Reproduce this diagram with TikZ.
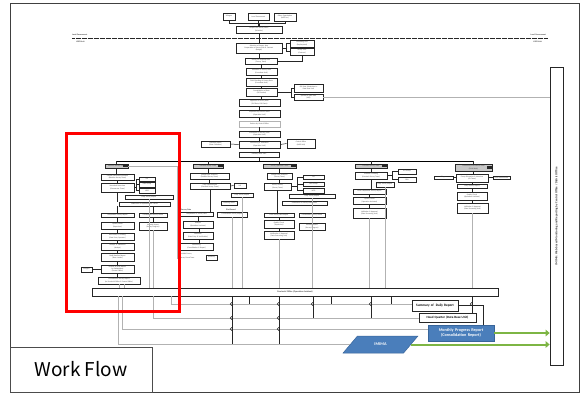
\documentclass[tikz,border=0pt]{standalone}
\usepackage{fontspec}
\setmainfont{Carlito}
\newfontfamily\wfjp{Noto Sans CJK JP}
\usetikzlibrary{arrows.meta,shapes.geometric}
\definecolor{wfblue}{HTML}{4A7EBB}
\definecolor{wfbluedark}{HTML}{38659A}
\definecolor{wfgreen}{HTML}{7DB544}
\newcommand\wftiny{\fontsize{1.8}{2.1}\selectfont}
% box given by its corners: [style]{name}{x1}{y1}{x2}{y2}{text}
\newcommand\wfbox[7][]{%
  \pgfmathsetmacro\wfcx{(#3+#5)/2}%
  \pgfmathsetmacro\wfcy{(#4+#6)/2}%
  \pgfmathsetmacro\wfw{#5-#3}%
  \pgfmathsetmacro\wfh{#6-#4}%
  \pgfmathsetmacro\wftw{max(#5-#3-1.4,1)}%
  \node[bx,#1,minimum width=\wfw pt,minimum height=\wfh pt,text width=\wftw pt] (#2) at (\wfcx,\wfcy) {#7};}
% small line hop drawn where a vertical line crosses a horizontal one
\newcommand\wfhop[2]{\draw[hopline] ([yshift=1.8pt]#1,#2) arc[start angle=90,end angle=270,radius=1.8pt];}
\begin{document}
\begin{tikzpicture}[x=1pt,y=-1pt,
  bx/.style={draw=black!85,line width=0.7pt,fill=white,inner sep=0.3pt,align=center,font=\wftiny,text=black!75},
  hd/.style={bx,fill=black!22},
  gbx/.style={bx,draw=black!30},
  wire/.style={draw=black!85,line width=0.5pt},
  feed/.style={draw=black!30,line width=0.5pt},
  hopline/.style={draw=black!85,line width=0.5pt},
  lbl/.style={font=\fontsize{2}{2.4}\selectfont\bfseries,text=black!75,inner sep=0},
  greenarrow/.style={draw=wfgreen,line width=2pt,-{Triangle[length=4pt,width=6.5pt]}}]
\useasboundingbox (0,0) rectangle (580,394);
\fill[white] (0,0) rectangle (580,394);
\draw[black!75,line width=0.8pt] (10,3.5) rectangle (579.4,392);

% ---------- level boundary ----------
\draw[black!85,line width=0.7pt,dash pattern=on 0.5pt off 0.7pt] (72,38) -- (548,38);
\node[lbl,anchor=west] (lgL) at (72,35) {Local Government};
\node[lbl,anchor=west] (luL) at (76,42) {LGED Unit};
\node[lbl,anchor=east] (lgR) at (546,35) {Local Government};
\node[lbl,anchor=east] (luR) at (542,42) {LGED Unit};

% ---------- central spine ----------
\wfbox{vil}{223}{13}{235}{20}{Villagers}
\wfbox{lgov}{248}{13}{269}{20}{Local Government}
\wfbox{oorg}{274}{13}{296}{21}{Other Organization\\(NGO etc.)}
\wfbox{T}{236}{26}{282}{33}{Request for Survey Work\\(Selection)}
\wfbox{S1}{236}{43}{282}{53}{Selection of Survey Area\\Preparation of Survey Plan \& Contract\\(Budget)}
\wfbox{R1}{290}{40}{314}{47}{Consulting Firm\\(Employment)}
\wfbox{R2}{290}{48}{314}{55}{Survey Firm\\(Contract)}
\wfbox{S2}{245}{58}{277}{64}{Survey on Selected Area\\(Survey Team)}
\wfbox{S3}{246}{68}{277}{75}{Validation of Survey Data\\(Consultant Unit)}
\wfbox{S4}{246}{78}{277}{86}{Field Checking of Survey Data\\(Consultant Unit)}
\wfbox{S5}{246}{88}{277}{96}{Consolidation of Data\\(GIS Section)}
\wfbox{R3}{294}{84}{323}{92}{GIS Data Submission to\\Data Base Unit}
\wfbox{R4}{294}{94}{323}{100}{Upload to Data Base\\(MIS)}
\wfbox{S6}{239}{99}{280}{106}{Approval of Survey Data\\(GIS Data, CAD Data)}
\wfbox{S7}{239}{110}{280}{117}{Inspection by District Office\\(Operation Unit)}
\wfbox[gbx]{S8}{239}{121}{280}{127}{Review by Central Office}
\wfbox{S9}{239}{131}{280}{137}{Instruction to Survey Team\\(Operation Unit)}
\wfbox{S10}{239}{141}{280}{148}{Monitoring \& Evaluation\\(Operation Unit)}
\wfbox{L1}{201}{141}{230}{147}{Provincial Office\\(Data Collection)}
\wfbox{R5}{287}{139}{315}{148}{Central Office\\(M\&E Unit)}
\wfbox{S11}{239}{152}{279}{157}{Monthly Work Plan}

\draw[wire] (vil.south) -- ++(0,3) -| (T.north);
\draw[wire] (oorg.south) -- ++(0,2) -| (T.north);
\draw[wire] (lgov.south) -- (lgov.south |- T.north);
\draw[wire] (T.south) -- (T.south |- S1.north);
\draw[wire] (S1.east) -- ++(4,0) |- (R1.west);
\draw[wire] (S1.east) ++(4,0) |- (R2.west);
\draw[wire,line width=0.8pt] (R2.south) |- (S2.east);
\foreach \a/\b in {S1/S2,S2/S3,S3/S4,S4/S5,S5/S6,S6/S7,S7/S8,S8/S9,S9/S10,S10/S11}
  {\draw[wire] (\a.south) -- (\a.south |- \b.north);}
\draw[wire] (S5.east) -- ++(14,0) |- (R3.west);
\draw[wire] (S5.east) ++(14,0) |- (R4.west);
\draw[wire] (L1.east) -- (S10.west);
\draw[wire] (S10.east) -- (R5.west);

% ---------- survey teams ----------
\coordinate (busL) at (117,161);
\coordinate (busR) at (473,161);
\draw[black,line width=0.8pt] (busL) -- (busR);
\draw[wire] (S11.south) -- (S11.south |- busL);

% column 1
\wfbox[hd]{h1}{105}{164}{128}{168}{Baseline Survey Team}
\wfbox{c1a}{101}{174}{134}{180}{Sample Household Selection\\(Baseline Survey Team)}
\wfbox{c1b}{101}{183}{134}{192}{Household Interview\\(Enumerator Team)}
\wfbox{c1s1}{139}{177}{155}{181}{LGI}
\wfbox{c1s2}{139}{182}{155}{187}{CBO Group}
\wfbox{c1s3}{139}{188}{155}{193}{NGO}
\wfbox{c1c}{125}{195}{173}{199}{Daily Survey Report}
\wfbox{c1d}{119}{202}{170}{206}{Submission of Questionnaire Forms}
\wfbox{c1e}{101}{213}{134}{217}{Compilation Survey Report}
\wfbox{c1f}{101}{222}{134}{229}{Quality Check\\(Supervisor)}
\wfbox{c1g}{101}{233}{134}{240}{Data Entry \& Cleaning\\(Data Entry Operator)}
\wfbox{c1h}{101}{243}{134}{250}{Analysis \& Tabulation\\(Analyst)}
\wfbox{c1i}{101}{253}{134}{261}{Draft Baseline Report\\(Team Leader)}
\wfbox{c1j}{101}{265}{134}{273}{Review of Draft Report\\by Stakeholders\\(Central Office)}
\wfbox{c1k}{81}{267}{92}{272}{Villagers}
\wfbox{c1l}{98}{277}{140}{284}{Final Baseline Survey Report\\(to Provincial Office \& Central Office)}
\wfbox{c1m}{139}{213}{167}{217}{Consolidated Survey Result}
\wfbox{c1n}{139}{222}{167}{230}{Monthly Report\\(Survey Progress)}

% column 2
\wfbox[hd]{h2}{193}{164}{223}{168}{Detailed Survey Team}
\wfbox{c2a}{190}{173}{229}{179}{Sample Plot Selection\\(Detailed Survey Team)}
\wfbox{c2b}{190}{183}{230}{189}{Field Measurement\\(Detailed Survey Team)}
\wfbox{c2s}{234}{183}{246}{188}{LGI}
\wfbox{c2c}{231}{193}{253}{197}{Daily Survey Report}
\wfbox{c2d}{221}{201}{237}{205}{Checking Sheet}
\node[lbl,anchor=west] (c2t1) at (181,210) {Survey Data};
\node[lbl,anchor=west] (c2t2) at (226,210) {Plot Record};
\wfbox{c2e}{180}{212}{213}{216}{Compilation of Survey Data}
\wfbox{c2f}{183}{221}{213}{228}{Analysis\\(Operation Assistant)}
\wfbox{c2g}{183}{232}{213}{239}{Validation\\(Data Entry \& Verification)}
\wfbox{c2h}{180}{243}{213}{250}{Monitoring\\(Consolidation \& Report)}
\node[font=\wftiny,text=black!75,inner sep=0,anchor=west] (c2t3) at (180,254.5) {Detailed Survey};
\node[font=\wftiny,text=black!75,inner sep=0,anchor=west] (c2t4) at (180,258.5) {Survey Forest Team};
\wfbox{c2i}{206}{255}{217}{260}{Summary}
\wfbox{c2j}{217}{212}{247}{217}{Consolidated Survey Report}

% column 3
\wfbox[hd]{h3}{263}{164}{296}{168}{Survey Operation Team}
\wfbox{c3a}{267}{173}{292}{179}{Sample Plot Selection\\(Survey Team)}
\wfbox{c3b}{264}{183}{291}{190}{Survey Activity\\(Survey Team)}
\wfbox{c3s1}{303}{175}{324}{179}{LGI}
\wfbox{c3s2}{303}{182}{324}{186}{CBO Group}
\wfbox{c3s3}{303}{188}{324}{193}{NGO}
\wfbox{c3c}{289}{194}{335}{198}{Daily Survey Report}
\wfbox{c3d}{282}{201}{327}{205}{Submission of Survey Data Forms}
\wfbox{c3e}{264}{213}{294}{217}{Field Survey Data Report}
\wfbox{c3f}{264}{220}{294}{228}{Quality Check\\(Supervisor)}
\wfbox{c3g}{264}{231}{294}{239}{Verification \& Approval\\(Data Processing Unit)}
\wfbox{c3h}{299}{213}{325}{217}{Consolidated Survey Result}
\wfbox{c3i}{299}{223}{325}{230}{Monthly Report\\(Survey Progress)}

% column 4
\wfbox[hd]{h4}{355}{164}{387}{168}{Livestock Survey Team}
\wfbox{c4a}{355}{172}{387}{179}{Livestock Counting\\(Livestock Survey Team)}
\wfbox{c4s1}{398}{169}{416}{174}{LGI Group}
\wfbox{c4s2}{398}{177}{416}{182}{CBO}
\wfbox{c4b}{376}{182}{394}{187}{Daily Survey Report}
\wfbox{c4c}{353}{189}{386}{194}{Field Compilation Survey Report}
\wfbox{c4d}{353}{197}{386}{204}{Quality Check\\(Operation Assistant)}
\wfbox{c4e}{353}{208}{386}{218}{Validation \& Approval\\(Data Processing Unit)}

% column 5
\wfbox[hd]{h5}{455}{164}{492}{171}{Community Assessment Team\\(Field Work)}
\wfbox{c5a}{456}{174}{488}{182}{Group Discussion \& Interview\\(CA Team)}
\wfbox{c5s1}{434}{176}{453}{179}{Villagers}
\wfbox{c5s2}{493}{176}{510}{179}{Local Government}
\wfbox{c5b}{457}{184}{487}{188}{Daily Activity Report}
\wfbox{c5c}{457}{192}{487}{200}{Quality Check\\(Operation Assistant)}
\wfbox{c5d}{457}{203}{488}{213}{Validation \& Approval\\(Data Processing Unit)}

% dark markers at the right end of the team headers
\foreach \h in {h1,h2,h3,h4,h5}
  {\fill[black!85] ([xshift=-5pt,yshift=-1.3pt]\h.east) rectangle ([xshift=-0.6pt,yshift=1.3pt]\h.east);}

% team headers on the bus
\foreach \h in {h1,h2,h3,h4,h5}
  {\draw[wire] (\h.north) -- (\h.north |- busL);}

% connectors inside the columns
\draw[wire] (h1.south) -- (h1.south |- c1a.north);
\draw[wire] (c1a.south) -- (c1a.south |- c1b.north);
\draw[wire] (c1b.east) -- ++(2,0) |- (c1s1.west);
\draw[wire] (c1b.east) ++(2,0) |- (c1s2.west);
\draw[wire] (c1b.east) ++(2,0) |- (c1s3.west);
\draw[wire] (c1b.south) -- (c1b.south |- c1d.north);
\draw[wire] (c1d.south -| c1e.north) -- (c1e.north);
\draw[wire] (c1d.south -| c1m.north) -- (c1m.north);
\foreach \a/\b in {c1e/c1f,c1f/c1g,c1g/c1h,c1h/c1i,c1i/c1j,c1j/c1l}
  {\draw[wire] (\a.south) -- (\a.south |- \b.north);}
\draw[wire] (c1m.south) -- (c1m.south |- c1n.north);
\draw[wire] (c1k.east) -- (c1k.east -| c1j.west);
\coordinate (c1g1) at (177,166);
\draw[feed] (h1.east) -- (c1g1) -- (c1g1 |- c2t4.west);

\draw[wire] (h2.south) -- (h2.south |- c2a.north);
\draw[wire] (c2a.south) -- (c2a.south |- c2b.north);
\draw[wire] (c2b.east) -- (c2s.west);
\draw[wire] (c2b.south) -- (c2b.south |- c2e.north);
\draw[wire] (c2c.south) -- (c2c.south |- c2j.north);
\foreach \a/\b in {c2e/c2f,c2f/c2g,c2g/c2h}
  {\draw[wire] ([xshift=1.5pt]\a.south) -- ([xshift=1.5pt]\a.south |- \b.north);}

\draw[wire] (h3.south) -- (h3.south |- c3a.north);
\draw[wire] (c3a.south) -- (c3a.south |- c3b.north);
\draw[wire] (c3b.east) -- ++(6,0) |- (c3s1.west);
\draw[wire] (c3b.east) ++(6,0) |- (c3s2.west);
\draw[wire] (c3b.east) ++(6,0) |- (c3s3.west);
\draw[wire] (c3b.south) -- (c3b.south |- c3e.north);
\draw[wire] (c3d.south -| c3h.north) -- (c3h.north);
\foreach \a/\b in {c3e/c3f,c3f/c3g}
  {\draw[wire] (\a.south) -- (\a.south |- \b.north);}
\draw[wire] (c3h.south) -- (c3h.south |- c3i.north);

\draw[wire] (h4.south) -- (h4.south |- c4a.north);
\draw[wire] (c4a.east) -- ++(5,0) |- (c4s1.west);
\draw[wire] (c4a.east) ++(5,0) |- (c4s2.west);
\draw[wire] (c4a.south) -- (c4a.south |- c4c.north);
\foreach \a/\b in {c4c/c4d,c4d/c4e}
  {\draw[wire] (\a.south) -- (\a.south |- \b.north);}

\draw[wire] (h5.south) -- (h5.south |- c5a.north);
\draw[wire] (c5s1.east) -- (c5a.west |- c5s1.east);
\draw[wire] (c5s2.west) -- (c5a.east |- c5s2.west);
\foreach \a/\b in {c5a/c5b,c5b/c5c,c5c/c5d}
  {\draw[wire] (\a.south) -- (\a.south |- \b.north);}

% ---------- provincial office and reporting ----------
\wfbox[font=\fontsize{2.2}{2.6}\selectfont\bfseries]{prov}{92}{288}{498}{296}{Provincial Office (Operation Assistant)}

% report lines down to the provincial office
\foreach \b in {c1l,c1n,c1c,c2j,c2c,c3g,c3i,c3c,c4e,c4b,c5d}
  {\draw[feed] (\b.south) -- (\b.south |- prov.north);}
\draw[feed] ([xshift=5pt]c1l.south) -- ([xshift=5pt]c1l.south |- prov.north);

\wfbox[font=\fontsize{3.4}{4}\selectfont\bfseries,text=black,line width=0.8pt]{summ}{412}{300}{458}{311}{Summary of \ Daily Report}
\wfbox[font=\fontsize{3.2}{3.8}\selectfont\bfseries,text=black,line width=0.8pt]{hq}{419}{313}{476}{322}{Head Quarter (Data Base Unit)}
\wfbox[fill=wfblue,draw=wfbluedark,line width=0.5pt,text=white,font=\fontsize{4.2}{5}\selectfont\bfseries]{mpr}{428}{325}{494}{341}{Monthly Progress Report\\(Consolidation Report)}
\node[trapezium,trapezium left angle=58,trapezium right angle=122,trapezium stretches=true,
      minimum width=75pt,minimum height=17pt,fill=wfblue,draw=wfbluedark,line width=0.5pt,
      text=white,font=\fontsize{4.2}{5}\selectfont\bfseries] (imima) at (380.5,344.5) {IMIMA};

\wfbox[text=black!80]{side}{550}{67}{563}{365}{}
\node[rotate=90,font=\fontsize{3}{3.6}\selectfont\bfseries,text=black!80,inner sep=0] (sidetxt) at (side.center)
  {IMIMA: Web-based Monitoring and Reporting by Central Office / District Office};

% lines below the provincial office
\coordinate (y1a) at (171,304);
\coordinate (y2a) at (153,318);
\coordinate (y3a) at (122,329);
\coordinate (y4a) at (118,344);
\draw[feed] (y1a |- prov.south) -- (y1a) -- (y1a -| summ.west);
\draw[feed] (y2a |- prov.south) -- (y2a) -- (y2a -| hq.west);
\draw[feed] (y3a |- prov.south) -- (y3a) -- (y3a -| mpr.west);
\draw[feed] (y4a |- prov.south) -- (y4a) -- (y4a -| imima.west);
\foreach \x/\e in {232/344,279/344,313/318,371/318,472/313}
  {\draw[wire] (\x,296) -- (\x,\e);}
\foreach \x in {249,331,391}
  {\draw[wire] (\x,296) -- (\x,304);}
\foreach \x in {232,279,313,371,472}
  {\wfhop{\x}{304}}
\foreach \x in {232,279}
  {\wfhop{\x}{318}\wfhop{\x}{329}}
\coordinate (sumturn) at (483,305.5);
\draw[wire] (summ.east) -- (sumturn) -- (sumturn |- mpr.north);
\draw[feed] (R4.east) -- (R4.east -| side.west);

\draw[greenarrow] (mpr.east) -- (mpr.east -| side.west);
\draw[greenarrow] (imima.east) -- (imima.east -| side.west);

% ---------- highlight and caption ----------
\draw[red,line width=3pt] (66,133) rectangle (179,311);
\node[draw=black!70,fill=white,line width=0.8pt,minimum width=142pt,minimum height=45pt,
      font=\wfjp\fontsize{19}{22}\selectfont] (wf) at (81,369.5) {Work Flow};
\end{tikzpicture}
\end{document}
